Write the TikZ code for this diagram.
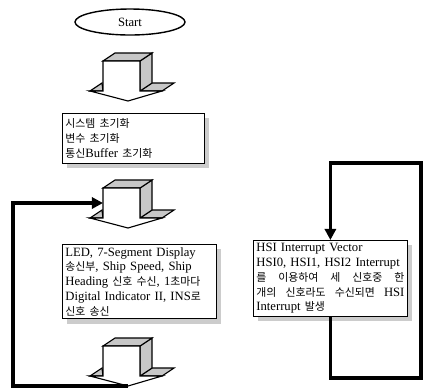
\documentclass[tikz,border=0pt]{standalone}
\usepackage{fontspec}
\setmainfont{Liberation Serif}
\newfontfamily\kr[Scale=0.86]{Noto Sans CJK KR}
\usetikzlibrary{arrows.meta, calc, shadows, shapes.geometric}

\begin{document}
\begin{tikzpicture}[x=0.025cm, y=-0.025cm, >={Triangle[length=2.8mm, width=2.8mm]},
  every node/.style={font=\fontsize{9}{10.5}\selectfont},
  stip/.style={draw=black, line width=0.8pt, fill=black!22},
  flowbox/.style={draw, line width=0.8pt, fill=white, align=left, inner sep=2pt, anchor=north west,
    drop shadow={shadow xshift=1.2mm, shadow yshift=-1.2mm, fill=black!20, opacity=1}},
  loopline/.style={line width=2.6pt},
  blockarrow/.pic={
    \draw[stip] (12,38) -- (34,38) -- (46,30) -- (24,30) -- cycle;
    \draw[stip] (-38,38) -- (-26,30) -- (-25,38) -- cycle;
    \draw[stip] (12,8) -- (24,0) -- (24,30) -- (12,38) -- cycle;
    \draw[stip] (-25,8) -- (-13,0) -- (24,0) -- (12,8) -- cycle;
    \draw[fill=white, line width=0.8pt] (-25,8) -- (12,8) -- (12,38) -- (34,38) -- (0,48) -- (-38,38) -- (-25,38) -- cycle;
    \coordinate (-left) at (-25,23);
    \coordinate (-tip) at (0,48);
  }]
  \useasboundingbox (0,0) rectangle (427,391);

  \node[draw, ellipse, line width=1pt, minimum width=2.75cm, minimum height=0.65cm] (start) at (130,22) {Start};
  \pic (arr1) at (128,53) {blockarrow};
  \node[flowbox, text width=3.4cm, minimum height=1.25cm] (init) at (62,113) {{\kr 시스템 초기화}\\{\kr 변수 초기화}\\{\kr 통신}Buffer {\kr 초기화}};
  \pic (arr2) at (128,180) {blockarrow};
  \node[flowbox, text width=3.7cm, minimum height=1.8cm] (comm) at (62,244) {LED, 7-Segment Display\\{\kr 송신부}, Ship Speed, Ship\\Heading {\kr 신호 수신}, 1{\kr 초마다}\\Digital Indicator II, INS{\kr 로}\\{\kr 신호 송신}};
  \pic (arr3) at (128,338) {blockarrow};

  \node[flowbox, text width=3.7cm, minimum height=1.83cm] (hsi) at (253,240) {HSI Interrupt Vector\\HSI0, HSI1, HSI2 Interrupt\\\leavevmode\hbox to 3.7cm{\kr 를\hfil 이용하여\hfil 세\hfil 신호중\hfil 한}\\\leavevmode\hbox to 3.7cm{\kr 개의\hfil 신호라도\hfil 수신되면\hfil \rmfamily HSI}\\Interrupt {\kr 발생}};

  % loops
  \coordinate (lcorner) at (13,203);
  \draw[loopline, ->] (arr3-tip) -| (lcorner) -- (arr2-left);
  \coordinate (rbot) at (421,378);
  \coordinate (rtop) at (421,163);
  \draw[loopline, ->] (hsi.south) |- (rbot) -- (rtop) -| (hsi.north);
\end{tikzpicture}
\end{document}
